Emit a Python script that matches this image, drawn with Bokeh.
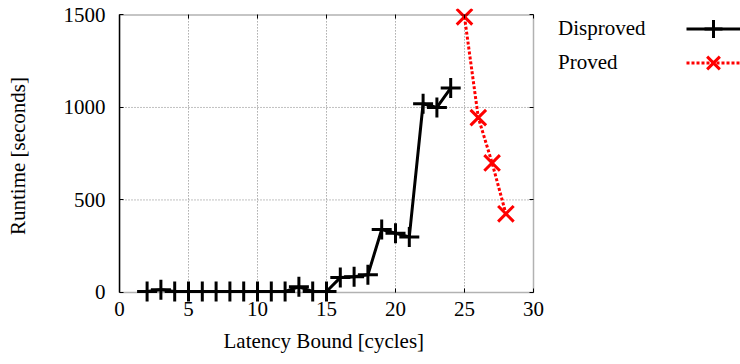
from bokeh.plotting import figure
from bokeh.models import Range1d, LinearAxis, FixedTicker, BoxAnnotation, Legend, LegendItem, Title
from bokeh.embed import file_html
from bokeh.resources import INLINE

# ---- data ----
disproved_x = list(range(2, 25))
disproved_y = [5, 15, 5, 5, 5, 5, 5, 5, 5, 5, 5, 30, 5, 5, 80, 85, 95, 340, 320, 300, 1020, 1000, 1105]
proved_x = [25, 26, 27, 28]
proved_y = [1490, 945, 700, 425]
x_ticks = [0, 5, 10, 15, 20, 25, 30]
y_ticks = [0, 500, 1000, 1500]
x_title = "Latency Bound [cycles]"
y_title = "Runtime [seconds]"
series_names = ["Disproved", "Proved"]

X_MIN, X_MAX = 0, 30
Y_MIN, Y_MAX = 0, 1500

FONT = "'Liberation Serif'"
FS = "21px"

# The frame reaches the right edge (room for the legend) and a little beyond the
# data box vertically (so markers on the box edges are not cut).
p = figure(width=740, height=364,
           x_range=Range1d(X_MIN, X_MAX * 621 / 414), y_range=Range1d(-60, 1535),
           output_backend="svg", toolbar_location=None,
           min_border_left=119, min_border_right=0, min_border_top=8, min_border_bottom=56)
p.outline_line_color = None
p.background_fill_color = "white"
p.border_fill_color = "white"
p.xgrid.visible = False
p.ygrid.visible = False

# dotted grid inside the data box only
gx = [t for t in x_ticks if X_MIN < t < X_MAX]
gy = [t for t in y_ticks if Y_MIN < t < Y_MAX]
p.segment(x0=gx, y0=[Y_MIN] * len(gx), x1=gx, y1=[Y_MAX] * len(gx),
          line_color="#808080", line_width=1, line_dash="1 2")
p.segment(x0=[X_MIN] * len(gy), y0=gy, x1=[X_MAX] * len(gy), y1=gy,
          line_color="#808080", line_width=1, line_dash="1 2")

# data box border
p.add_layout(BoxAnnotation(left=X_MIN, right=X_MAX, bottom=Y_MIN, top=Y_MAX,
                           fill_color=None, line_color="black", line_width=1.5))


def base_axis(ax):
    ax.minor_tick_line_color = None
    ax.major_tick_line_color = "black"
    ax.major_tick_line_width = 1
    ax.major_label_text_font = FONT
    ax.major_label_text_color = "black"
    ax.major_label_text_font_size = FS
    ax.axis_label_text_font = FONT
    ax.axis_label_text_font_size = FS
    ax.axis_label_text_font_style = "normal"
    ax.axis_label_text_color = "black"


def tick_only(ax):
    base_axis(ax)
    ax.major_label_text_font_size = "1px"
    ax.major_label_text_color = None
    ax.major_label_standoff = 0
    ax.axis_line_color = None


# bottom axis: tick labels only
xa = p.xaxis[0]
xa.ticker = FixedTicker(ticks=x_ticks)
base_axis(xa)
xa.axis_line_color = None
xa.major_tick_line_color = None
xa.major_tick_in = 0
xa.major_tick_out = 0
xa.major_label_standoff = -2

# x title, centred under the data box
p.add_layout(Title(text=x_title, align="left", offset=104, vertical_align="top", standoff=20,
                   text_font=FONT, text_font_size=FS, text_font_style="normal",
                   text_color="black"), "below")

# left axis
ya = p.yaxis[0]
ya.ticker = FixedTicker(ticks=y_ticks)
base_axis(ya)
ya.axis_line_color = "black"
ya.axis_line_width = 1.5
ya.bounds = (Y_MIN, Y_MAX)
ya.major_tick_in = 4
ya.major_tick_out = 0
ya.major_label_standoff = 14
ya.axis_label = y_title
ya.axis_label_standoff = 31

# inward ticks on the right edge of the box
rt = LinearAxis(ticker=FixedTicker(ticks=y_ticks), fixed_location=X_MAX)
tick_only(rt)
rt.major_tick_in = 0
rt.major_tick_out = 4
p.add_layout(rt, "left")

# inward ticks on the bottom and top edges of the box
bt = LinearAxis(ticker=FixedTicker(ticks=x_ticks), fixed_location=Y_MIN)
tick_only(bt)
bt.major_tick_in = 0
bt.major_tick_out = 4
p.add_layout(bt, "above")

tt = LinearAxis(ticker=FixedTicker(ticks=x_ticks), fixed_location=Y_MAX)
tick_only(tt)
tt.major_tick_in = 4
tt.major_tick_out = 0
p.add_layout(tt, "above")

# series
styles = [
    dict(line_color="black", line_width=3, line_dash="solid", marker="cross", size=20),
    dict(line_color="#ff0000", line_width=3, line_dash="3 2", marker="x", size=22),
]
series = [(disproved_x, disproved_y), (proved_x, proved_y)]
rends = []
for (xs, ys), st in zip(series, styles):
    rl = p.line(xs, ys, line_color=st["line_color"], line_width=st["line_width"], line_dash=st["line_dash"])
    rm = p.scatter(xs, ys, marker=st["marker"], size=st["size"], line_color=st["line_color"], line_width=3)
    rends.append([rl, rm])

# legend: names on the left, line/marker samples on the right
names_legend = Legend(
    items=[LegendItem(label=n, renderers=r) for n, r in zip(series_names, rends)],
    location=(439, 224), glyph_width=0, glyph_height=34, label_height=34,
    label_standoff=0, padding=0, margin=0, spacing=0,
    border_line_color=None, background_fill_alpha=0,
    label_text_font=FONT, label_text_font_size=FS, label_text_color="black")
p.add_layout(names_legend, "center")

for r, ly in zip(rends, (252, 218)):
    sample = Legend(
        items=[LegendItem(label=" ", renderers=r)],
        location=(567, ly), glyph_width=54, glyph_height=45, label_height=0, label_width=0,
        label_standoff=0, padding=0, margin=0, spacing=0,
        border_line_color=None, background_fill_alpha=0,
        label_text_font=FONT, label_text_font_size=FS, label_text_color=None)
    p.add_layout(sample, "center")

open("out.html", "w").write(file_html(p, INLINE))
